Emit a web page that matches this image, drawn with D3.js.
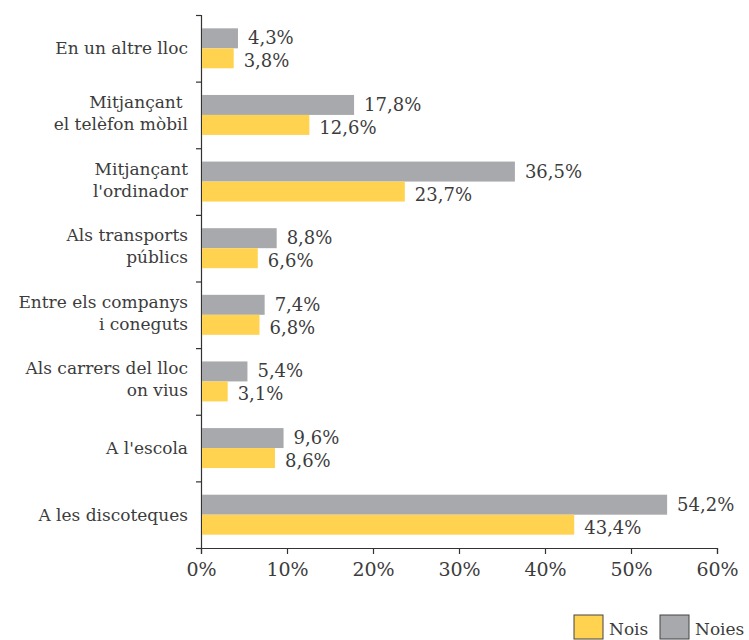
<!DOCTYPE html>
<html>
<head>
<meta charset="utf-8">
<script src="https://cdn.jsdelivr.net/npm/d3@7"></script>
<style>
  body { margin: 0; background: #fff; }
  text { font-family: "DejaVu Serif", serif; fill: #3c3c3c; }
</style>
</head>
<body>
<div class="chart"></div>
<script>
// data, top to bottom
var categories = [
  ["En un altre lloc"],
  ["Mitjançant ", "el telèfon mòbil"],
  ["Mitjançant", "l'ordinador"],
  ["Als transports", "públics"],
  ["Entre els companys", "i coneguts"],
  ["Als carrers del lloc", "on vius"],
  ["A l'escola"],
  ["A les discoteques"]
];
var noies = [4.3, 17.8, 36.5, 8.8, 7.4, 5.4, 9.6, 54.2];
var nois = [3.8, 12.6, 23.7, 6.6, 6.8, 3.1, 8.6, 43.4];
var xTicks = [0, 10, 20, 30, 40, 50, 60];
var seriesNames = ["Nois", "Noies"];

var svgWidth = 749;
var svgHeight = 640;
var margin = { top: 15, right: 32, bottom: 92, left: 201 };
var width = svgWidth - margin.left - margin.right;
var height = svgHeight - margin.top - margin.bottom;

var gray = "#a8a9ad";
var yellow = "#ffd24f";
var font = "'DejaVu Serif', serif";

var svg = d3.select(".chart").append("svg")
  .attr("width", svgWidth)
  .attr("height", svgHeight);

var g = svg.append("g")
  .attr("transform", `translate(${margin.left}, ${margin.top})`);

var idx = d3.range(categories.length);

var xScale = d3.scaleLinear().domain([0, 60]).range([0, width]);
var yBand = d3.scaleBand().domain(idx).range([0, height]).paddingInner(0.4).paddingOuter(0.2);
var sub = d3.scaleBand().domain(["noies", "nois"]).range([0, yBand.bandwidth()]);

var fmt = d3.formatLocale({ decimal: ",", thousands: ".", grouping: [3], currency: ["", ""] }).format(".1f");

// category boundary ticks on y axis
var yEdge = d3.scaleLinear().domain([0, categories.length]).range([0, height]);
var yAxis = g.append("g")
  .call(d3.axisLeft(yEdge).ticks(categories.length).tickSize(5).tickFormat(""));
yAxis.selectAll("path, line").attr("stroke", "#333").attr("stroke-width", 1.2);

var xAxis = g.append("g")
  .attr("transform", `translate(0, ${height})`)
  .call(d3.axisBottom(xScale).tickValues(xTicks).tickSize(6).tickPadding(9).tickFormat(d => d + "%"));
xAxis.attr("font-family", null);
xAxis.select(".domain").attr("stroke", "#333").attr("stroke-width", 1.2);
xAxis.selectAll("line").attr("stroke", "#333").attr("stroke-width", 1.2);
xAxis.selectAll("text")
  .style("font-family", font)
  .style("font-size", "19px")
  .attr("fill", "#3c3c3c");

var groups = g.selectAll(".cat")
  .data(idx)
  .enter()
  .append("g")
  .attr("transform", d => `translate(0, ${yBand(d)})`);

groups.append("rect")
  .attr("x", 1)
  .attr("y", sub("noies"))
  .attr("width", d => xScale(noies[d]) - 1)
  .attr("height", sub.bandwidth())
  .attr("fill", gray);

groups.append("rect")
  .attr("x", 1)
  .attr("y", sub("nois"))
  .attr("width", d => xScale(nois[d]) - 1)
  .attr("height", sub.bandwidth())
  .attr("fill", yellow);

groups.append("text")
  .attr("x", d => xScale(noies[d]) + 10)
  .attr("y", sub("noies") + sub.bandwidth() / 2 + 6)
  .style("font-size", "18px")
  .text(d => fmt(noies[d]) + "%");

groups.append("text")
  .attr("x", d => xScale(nois[d]) + 10)
  .attr("y", sub("nois") + sub.bandwidth() / 2 + 9)
  .style("font-size", "18px")
  .text(d => fmt(nois[d]) + "%");

// category labels
var labels = groups.append("text")
  .attr("text-anchor", "end")
  .attr("xml:space", "preserve")
  .style("white-space", "pre")
  .style("font-size", "17px");

labels.each(function(d) {
  var lines = categories[d];
  var mid = yBand.bandwidth() / 2;
  var start = mid - (lines.length - 1) * 22 / 2 + 6;
  d3.select(this).selectAll("tspan")
    .data(lines)
    .enter()
    .append("tspan")
    .attr("x", -13)
    .attr("y", (l, i) => start + i * 22 - (lines.length > 1 ? 2 : 0))
    .text(l => l);
});

// legend
var legend = svg.append("g").attr("transform", "translate(574, 615)");
var legendItems = [
  { name: seriesNames[0], color: yellow, x: 0 },
  { name: seriesNames[1], color: gray, x: 86 }
];
var li = legend.selectAll("g")
  .data(legendItems)
  .enter()
  .append("g")
  .attr("transform", d => `translate(${d.x}, 0)`);
li.append("rect")
  .attr("width", 29)
  .attr("height", 24)
  .attr("fill", d => d.color)
  .attr("stroke", "#444")
  .attr("stroke-width", 1);
li.append("text")
  .attr("x", 35)
  .attr("y", 20)
  .style("font-size", "17px")
  .text(d => d.name);
</script>
</body>
</html>
